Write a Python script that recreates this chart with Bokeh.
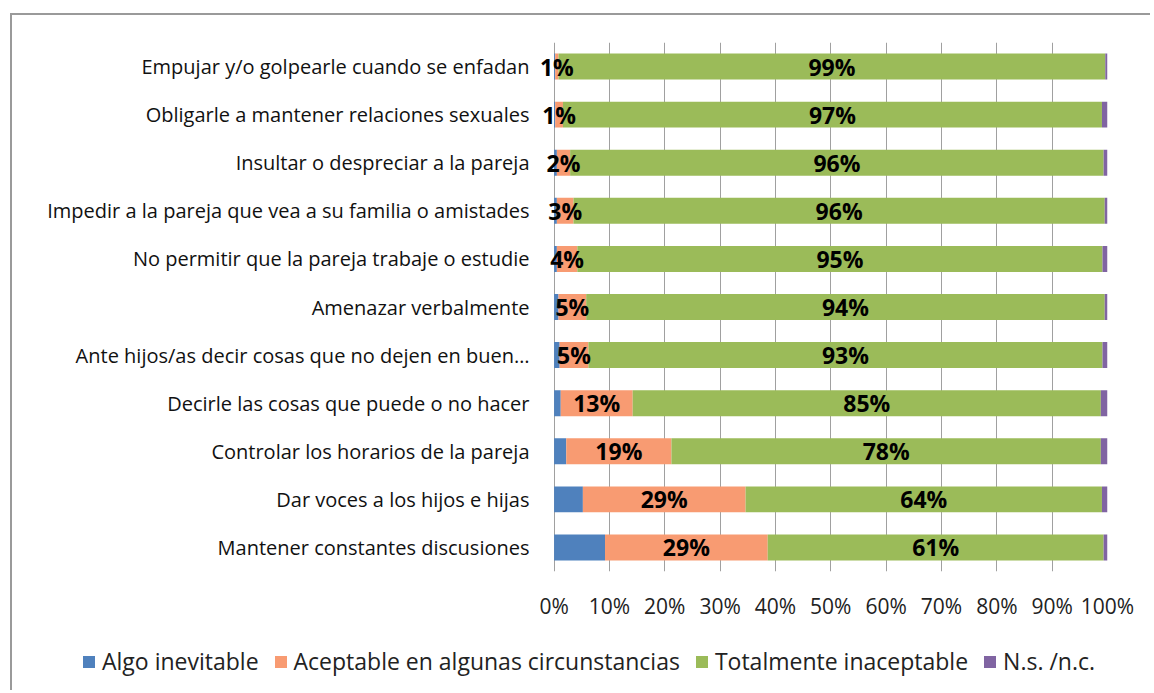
import numpy as np
from bokeh.plotting import figure
from bokeh.layouts import column
from bokeh.models import ColumnDataSource, FactorRange, Range1d, FixedTicker, PrintfTickFormatter, Legend, LegendItem
from bokeh.core.properties import value
from bokeh.embed import file_html
from bokeh.resources import INLINE

categories = [
    "Empujar y/o golpearle cuando se enfadan",
    "Obligarle a mantener relaciones sexuales",
    "Insultar o despreciar a la pareja",
    "Impedir a la pareja que vea a su familia o amistades",
    "No permitir que la pareja trabaje o estudie",
    "Amenazar verbalmente",
    "Ante hijos/as decir cosas que no dejen en buen…",
    "Decirle las cosas que puede o no hacer",
    "Controlar los horarios de la pareja",
    "Dar voces a los hijos e hijas",
    "Mantener constantes discusiones",
]
series_names = ["Algo inevitable", "Aceptable en algunas circunstancias", "Totalmente inaceptable", "N.s. /n.c."]
algo_inevitable = [0.2, 0.2, 0.5, 0.5, 0.5, 0.8, 1.0, 1.2, 2.2, 5.2, 9.2]
aceptable = [0.6, 1.4, 2.4, 3.0, 3.7, 5.0, 5.2, 13.0, 19.0, 29.4, 29.4]
inaceptable = [98.8, 97.4, 96.4, 96.0, 94.9, 93.7, 92.9, 84.6, 77.6, 64.4, 60.7]
ns_nc = [0.4, 1.0, 0.7, 0.5, 0.9, 0.5, 0.9, 1.2, 1.2, 1.0, 0.7]
colors = ["#4F81BD", "#F89B72", "#9BBB59", "#8064A2"]
x_ticks = [0, 10, 20, 30, 40, 50, 60, 70, 80, 90, 100]

FONT = "Open Sans"
W = 1138

# x range starts slightly below 0 so that small labels near 0% are not clipped
p = figure(
    width=W, height=630,
    y_range=FactorRange(factors=list(reversed(categories)), range_padding=0),
    x_range=Range1d(-3, 100),
    output_backend="svg", toolbar_location=None,
    min_border_left=525, min_border_right=W - 525 - 570, min_border_top=27, min_border_bottom=74,
)
p.outline_line_color = None
p.background_fill_color = "white"
p.border_fill_color = "white"

series = [algo_inevitable, aceptable, inaceptable, ns_nc]
vals = np.array(series, dtype=float)
vals = vals / vals.sum(axis=0) * 100.0
lefts = np.vstack([np.zeros(vals.shape[1]), np.cumsum(vals, axis=0)[:-1]])
rights = np.cumsum(vals, axis=0)

sources = []
for i, name in enumerate(series_names):
    src = ColumnDataSource(dict(y=categories, left=lefts[i], right=rights[i],
                                mid=(lefts[i] + rights[i]) / 2,
                                lab=[f"{int(round(v))}%" for v in series[i]]))
    sources.append(src)
    p.hbar(y="y", left="left", right="right", height=0.54, source=src,
           fill_color=colors[i], line_color=None)
for i in (1, 2):
    p.text(x="mid", y="y", text="lab", source=sources[i], text_align="center", text_baseline="middle",
           text_font=value(FONT), text_font_style="bold", text_font_size="23px", text_color="black")

p.xgrid.ticker = FixedTicker(ticks=x_ticks)
p.xgrid.grid_line_color = "#a0a0a0"
p.ygrid.grid_line_color = None

p.xaxis.ticker = FixedTicker(ticks=x_ticks)
p.xaxis.formatter = PrintfTickFormatter(format="%d%%")
p.xaxis.axis_line_color = None
p.xaxis.major_tick_line_color = None
p.xaxis.minor_tick_line_color = None
p.xaxis.major_label_standoff = 14
p.xaxis.major_label_text_font = FONT
p.xaxis.major_label_text_font_size = "21px"
p.xaxis.major_label_text_color = "#222222"

p.yaxis.axis_line_color = None
p.yaxis.major_tick_line_color = None
p.yaxis.major_label_standoff = 2
p.yaxis.major_label_text_font = FONT
p.yaxis.major_label_text_font_size = "20px"
p.yaxis.major_label_text_color = "#111111"

# legend in its own strip below the chart
lf = figure(frame_width=W, frame_height=45, x_range=Range1d(0, 1), y_range=Range1d(0, 1),
            output_backend="svg", toolbar_location=None,
            min_border_left=0, min_border_right=0, min_border_top=0, min_border_bottom=0)
lf.xaxis.visible = False
lf.yaxis.visible = False
lf.grid.grid_line_color = None
lf.outline_line_color = None
items = []
for i, name in enumerate(series_names):
    r = lf.hbar(y=[5], left=[5], right=[6], height=0.5, fill_color=colors[i], line_color=None)
    items.append(LegendItem(label=name, renderers=[r]))
legend = Legend(items=items, orientation="horizontal", location=(69, 13),
                border_line_color=None, background_fill_alpha=0,
                label_text_font=FONT, label_text_font_size="23px", label_text_color="#222222",
                glyph_width=15, glyph_height=15, spacing=14, label_standoff=6,
                padding=0, margin=0)
lf.add_layout(legend, "center")

layout = column(p, lf, spacing=0)
layout.styles = {"border-top": "2px solid #9a9a9a", "border-left": "2px solid #9a9a9a",
                 "margin-top": "13px", "margin-left": "10px"}

open("out.html", "w").write(file_html(layout, INLINE))
